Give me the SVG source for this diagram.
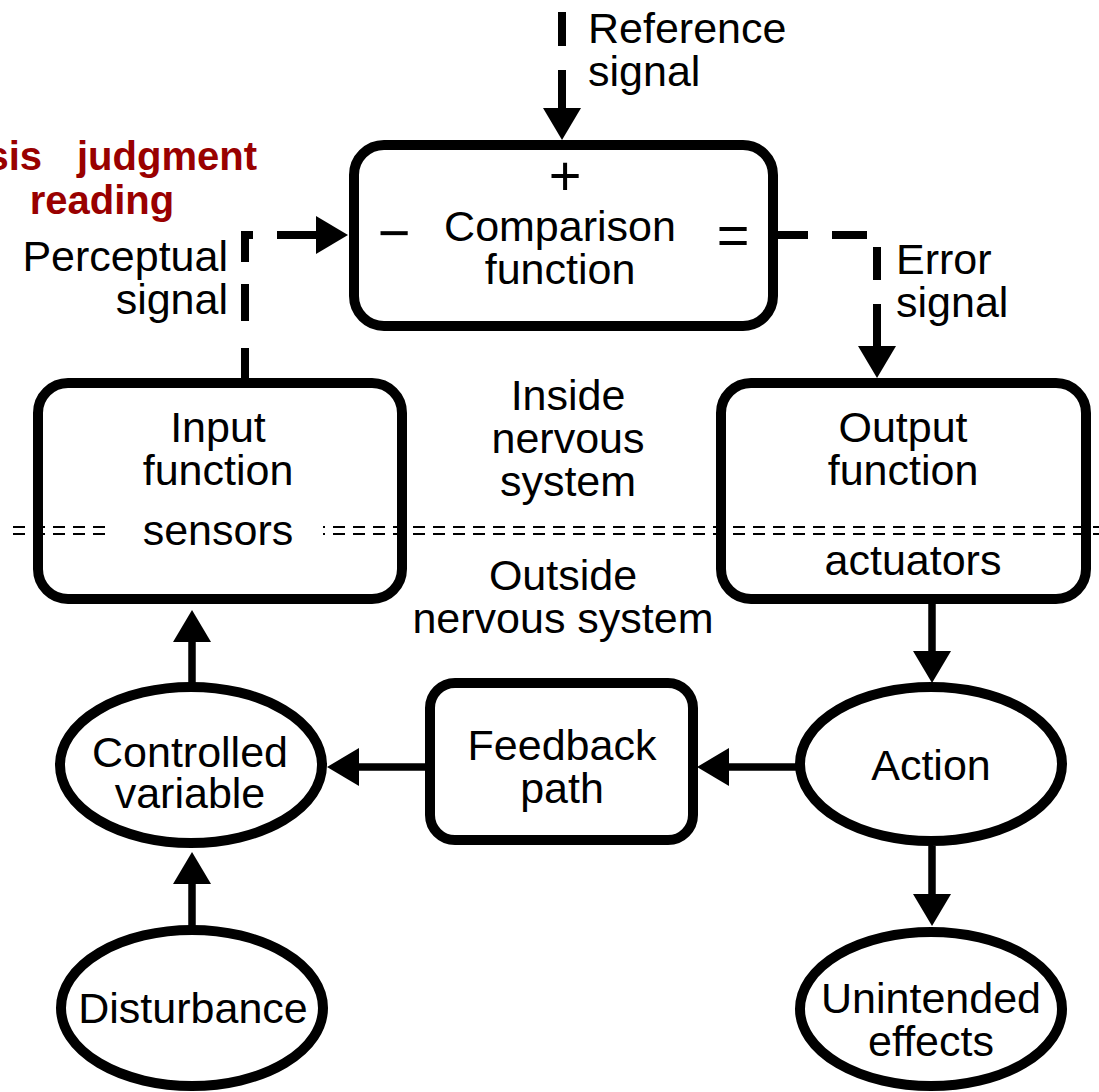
<svg xmlns="http://www.w3.org/2000/svg" width="1099" height="1092" viewBox="0 0 1099 1092">
<defs>
<style>
text{font-family:"Liberation Sans",Arial,Helvetica,sans-serif;font-size:43px;fill:#000}
.m{text-anchor:middle}
.e{text-anchor:end}
.sym{font-size:56px}
.red{font-weight:bold;font-size:40px;fill:#990000}
.box{fill:#fff;stroke:#000;stroke-width:10}
.con{fill:none;stroke:#000;stroke-width:8}
.sol{fill:none;stroke:#000;stroke-width:7.5}
.sep{fill:none;stroke:#000;stroke-width:1.8;stroke-dasharray:12 8}
</style>
<marker id="arr" markerUnits="userSpaceOnUse" markerWidth="34" markerHeight="40" viewBox="0 -20 34 40" refX="0" refY="0" orient="auto" overflow="visible">
<path d="M0,-19 L32,0 L0,19 Z" fill="#000"/>
</marker>
</defs>

<g id="comparison">
<rect class="box" x="354" y="145" width="419" height="181" rx="30"/>
<text class="m sym" x="565" y="195">+</text>
<text class="m sym" x="394" y="252">−</text>
<text class="m sym" x="733" y="254">=</text>
<text class="m" x="560" y="241">Comparison</text>
<text class="m" x="560" y="284">function</text>
</g>

<g id="input">
<rect class="box" x="38" y="383" width="364" height="216" rx="30"/>
<text class="m" x="218" y="442">Input</text>
<text class="m" x="218" y="485">function</text>
</g>

<g id="output">
<rect class="box" x="721" y="383" width="365" height="216" rx="30"/>
<text class="m" x="903" y="442">Output</text>
<text class="m" x="903" y="485">function</text>
</g>

<g id="feedback">
<rect class="box" x="430" y="683" width="263" height="157" rx="25"/>
<text class="m" x="562" y="760">Feedback</text>
<text class="m" x="562" y="803">path</text>
</g>

<g id="controlled">
<ellipse class="box" cx="191" cy="765" rx="131" ry="78"/>
<text class="m" x="190" y="767">Controlled</text>
<text class="m" x="190" y="808">variable</text>
</g>

<g id="action">
<ellipse class="box" cx="931" cy="764" rx="131" ry="77"/>
<text class="m" x="931" y="780">Action</text>
</g>

<g id="disturbance">
<ellipse class="box" cx="192" cy="1008" rx="131" ry="78"/>
<text class="m" x="193" y="1023">Disturbance</text>
</g>

<g id="unintended">
<ellipse class="box" cx="931" cy="1009" rx="131" ry="77"/>
<text class="m" x="931" y="1013">Unintended</text>
<text class="m" x="931" y="1056">effects</text>
</g>

<g id="boundary">
<line class="sep" x1="13" y1="527" x2="1099" y2="527"/>
<line class="sep" x1="13" y1="534" x2="1099" y2="534"/>
<rect x="109" y="520" width="214" height="20" fill="#fff"/>
<text class="m" x="218" y="545">sensors</text>
<text class="m" x="913" y="575">actuators</text>
</g>

<g id="labels">
<text x="588" y="43">Reference</text>
<text x="588" y="86">signal</text>
<text class="e" x="228" y="271">Perceptual</text>
<text class="e" x="228" y="314">signal</text>
<text x="896" y="274">Error</text>
<text x="896" y="317">signal</text>
<text class="m" x="568" y="410">Inside</text>
<text class="m" x="568" y="453">nervous</text>
<text class="m" x="568" y="496">system</text>
<text class="m" x="563" y="590">Outside</text>
<text class="m" x="563" y="633">nervous system</text>
<text class="red e" x="42" y="170">sis</text>
<text class="red" x="77" y="170">judgment</text>
<text class="red m" x="102" y="214">reading</text>
</g>

<g id="connectors">
<path class="con" d="M562,12 V108" stroke-dasharray="34 24 38" marker-end="url(#arr)"/>
<path class="con" d="M245,383 V235 H316" stroke-dasharray="35 27 37 22 35 24 39 100" marker-end="url(#arr)"/>
<path class="con" d="M778,235 H877 V346" stroke-dasharray="30 24 35 22 33 24 42 100" marker-end="url(#arr)"/>
<path class="sol" d="M192,683 V642" marker-end="url(#arr)"/>
<path class="sol" d="M192,930 V884" marker-end="url(#arr)"/>
<path class="sol" d="M430,767 H359" marker-end="url(#arr)"/>
<path class="sol" d="M800,767 H729" marker-end="url(#arr)"/>
<path class="sol" d="M932,604 V651" marker-end="url(#arr)"/>
<path class="sol" d="M932,846 V894" marker-end="url(#arr)"/>
</g>
</svg>
